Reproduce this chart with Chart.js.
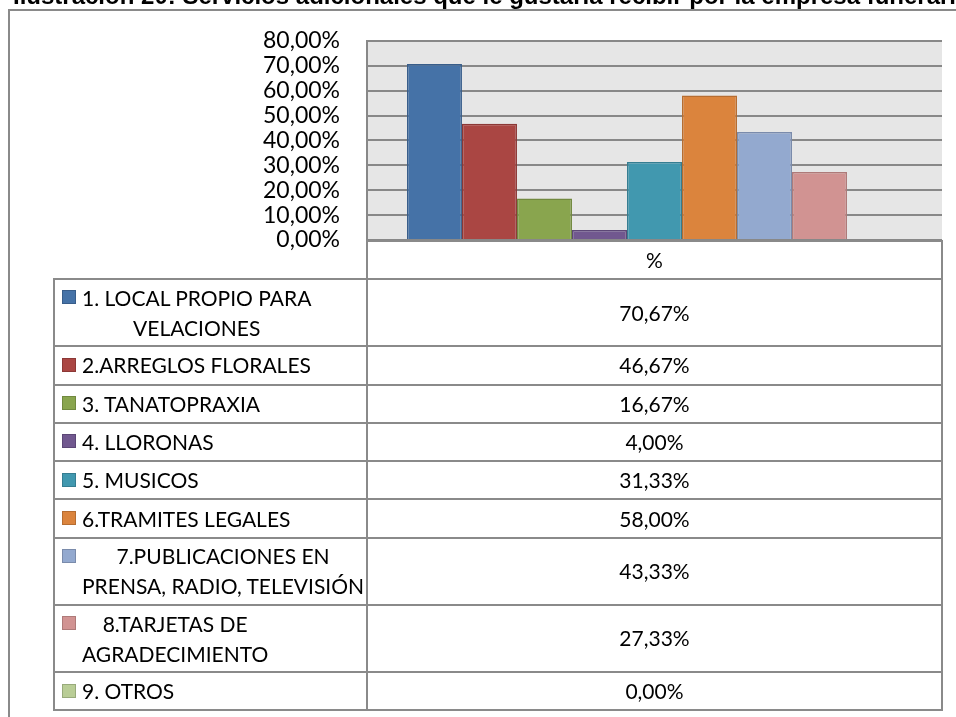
<!DOCTYPE html>
<html>
<head>
<meta charset="utf-8">
<script src="https://cdn.jsdelivr.net/npm/chart.js@4/dist/chart.umd.min.js"></script>
<style>
  html, body { margin:0; padding:0; background:#fff; }
  #wrap { position:relative; width:956px; height:717px; overflow:hidden; }
  #chartBox { position:absolute; left:0; top:0; width:956px; height:717px; }
  .ln { position:absolute; background:#8a8a8a; }
  .txt { position:absolute; font-family:Lato, 'Open Sans', sans-serif; font-size:21px; color:#000; line-height:30px; white-space:nowrap; }
  #title { position:absolute; left:13px; top:-16px; font-family:'Liberation Sans', Arial, sans-serif; font-weight:bold; font-size:24px; line-height:24px; white-space:nowrap; color:#000; }
</style>
</head>
<body>
<div id="wrap">
  <div id="chartBox"><canvas id="c"></canvas></div>
  <div id="title">Ilustración 20: Servicios adicionales que le gustaría recibir por la empresa funeraria</div>
  <div id="overlay"></div>
</div>
<script>
// ---- data ----
const categories = ['%'];
const seriesNames = [
  '1. LOCAL PROPIO PARA VELACIONES',
  '2.ARREGLOS FLORALES',
  '3. TANATOPRAXIA',
  '4. LLORONAS',
  '5. MUSICOS',
  '6.TRAMITES LEGALES',
  '7.PUBLICACIONES EN PRENSA, RADIO, TELEVISIÓN',
  '8.TARJETAS DE AGRADECIMIENTO',
  '9. OTROS'
];
const seriesLines = [
  ['1. LOCAL PROPIO PARA', 'VELACIONES'],
  ['2.ARREGLOS FLORALES'],
  ['3. TANATOPRAXIA'],
  ['4. LLORONAS'],
  ['5. MUSICOS'],
  ['6.TRAMITES LEGALES'],
  ['7.PUBLICACIONES EN', 'PRENSA, RADIO, TELEVISIÓN'],
  ['8.TARJETAS DE', 'AGRADECIMIENTO'],
  ['9. OTROS']
];
const seriesValues = [70.67, 46.67, 16.67, 4.00, 31.33, 58.00, 43.33, 27.33, 0.00];
const yTicks = [0, 10, 20, 30, 40, 50, 60, 70, 80];
const fillColors = ['#4572A7', '#AA4643', '#89A54E', '#71588F', '#4198AF', '#DB843D', '#93A9CF', '#D19392', '#B9CD96'];
const borderColors = ['#385D8A', '#8C3836', '#71893F', '#5C4776', '#357D91', '#B66D31', '#7A8BAB', '#AE7A79', '#98AA7B'];

const fmt = v => v.toFixed(2).replace('.', ',') + '%';

// ---- layout constants ----
const PLOT_L = 367, PLOT_R = 942, PLOT_T = 38, PLOT_B = 240;

const plotBg = {
  id: 'plotBg',
  beforeDraw(chart) {
    const a = chart.chartArea, ctx = chart.ctx;
    ctx.save();
    ctx.fillStyle = '#e6e6e6';
    ctx.fillRect(a.left, a.top, a.right - a.left, a.bottom - a.top);
    ctx.restore();
  }
};

new Chart(document.getElementById('c'), {
  type: 'bar',
  data: {
    labels: categories,
    datasets: seriesNames.map((n, i) => ({
      label: n,
      data: [seriesValues[i]],
      backgroundColor: fillColors[i],
      borderColor: borderColors[i],
      borderWidth: 1.5,
      categoryPercentage: 0.861,
      barPercentage: 1.0
    }))
  },
  options: {
    responsive: true,
    maintainAspectRatio: false,
    animation: false,
    layout: { padding: { left: 0, top: PLOT_T, right: 956 - PLOT_R, bottom: 717 - PLOT_B } },
    plugins: { legend: { display: false }, tooltip: { enabled: false } },
    scales: {
      x: { display: false },
      y: {
        min: 0, max: 80,
        afterBuildTicks: s => { s.ticks = yTicks.map(v => ({ value: v })); },
        afterFit: s => { s.width = PLOT_L; },
        ticks: {
          autoSkip: false, padding: 27, color: '#000',
          font: { family: 'Lato', size: 23 },
          callback: v => fmt(v)
        },
        grid: { color: '#888', lineWidth: 2, drawTicks: false },
        border: { display: true, color: '#888', width: 2 }
      }
    }
  },
  plugins: [plotBg]
});

// ---- data table overlay ----
const ov = document.getElementById('overlay');
function line(x, y, w, h) {
  const d = document.createElement('div');
  d.className = 'ln';
  d.style.left = x + 'px'; d.style.top = y + 'px';
  d.style.width = w + 'px'; d.style.height = h + 'px';
  ov.appendChild(d);
}
function text(str, x, y, w, h, align) {
  const d = document.createElement('div');
  d.className = 'txt';
  d.style.left = x + 'px'; d.style.top = y + 'px';
  d.style.width = w + 'px'; d.style.height = h + 'px';
  d.style.display = 'flex'; d.style.alignItems = 'center';
  d.style.justifyContent = align;
  d.innerHTML = str;
  ov.appendChild(d);
  return d;
}
// outer frame
line(8, 9, 948, 2);
line(8, 9, 2, 708);

const HEAD_T = 240, HEAD_B = 279, LEFT = 54, DIV = 367, RIGHT = 942;
const ROW1 = 38.3, ROW2 = 67.2;
// header
line(DIV - 1, HEAD_T, RIGHT - DIV + 2, 2);
text('%', DIV, HEAD_T, RIGHT - DIV, HEAD_B - HEAD_T, 'center');
let y = HEAD_B;
line(LEFT - 1, y - 1, RIGHT - LEFT + 2, 2);
seriesLines.forEach((lines, i) => {
  const h = lines.length > 1 ? ROW2 : ROW1;
  const blockH = lines.length * 30;
  const bt = y + (h - blockH) / 2;
  const lab = document.createElement('div');
  lab.className = 'txt';
  lab.style.left = '82px'; lab.style.top = bt + 'px';
  lab.style.textAlign = 'center';
  lab.innerHTML = lines.join('<br>');
  ov.appendChild(lab);
  const key = document.createElement('div');
  key.style.position = 'absolute';
  key.style.left = '62px'; key.style.top = (bt + 15 - 7.5) + 'px';
  key.style.width = '12px'; key.style.height = '12px';
  key.style.background = fillColors[i];
  key.style.border = '1px solid ' + borderColors[i];
  ov.appendChild(key);
  text(fmt(seriesValues[i]), DIV, y, RIGHT - DIV, h, 'center');
  y += h;
  line(LEFT - 1, y - 1, RIGHT - LEFT + 2, 2);
});
line(LEFT - 1, HEAD_B - 1, 2, y - HEAD_B + 1);
line(DIV - 1, HEAD_T, 2, y - HEAD_T);
line(RIGHT - 1, HEAD_T, 2, y - HEAD_T);
</script>
</body>
</html>
